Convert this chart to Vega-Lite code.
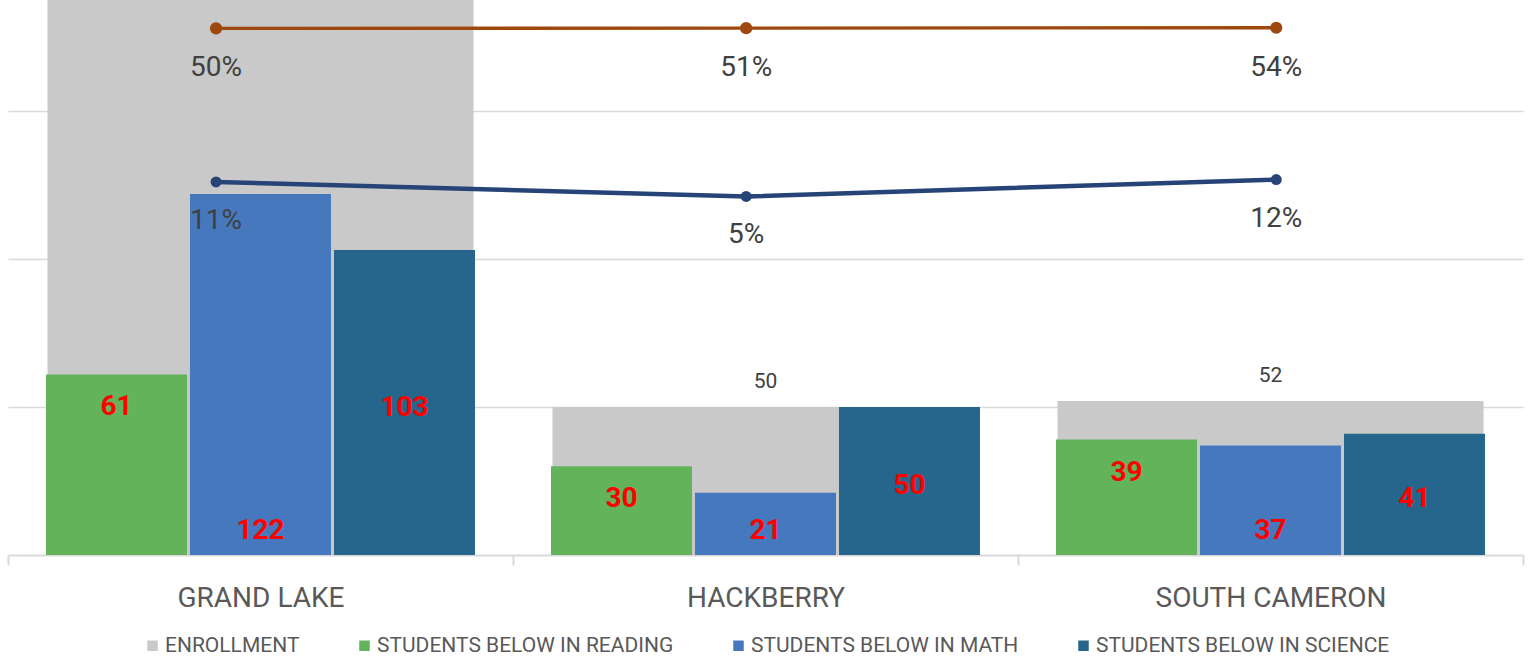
{
  "$schema": "https://vega.github.io/schema/vega-lite/v6.json",
  "width": 1515,
  "height": 555,
  "autosize": {"type": "none"},
  "padding": {"left": 8, "top": 0, "right": 5, "bottom": 101},
  "background": "white",
  "config": {
    "font": "Roboto",
    "view": {"stroke": null},
    "legend": {"layout": {"bottom": {"anchor": "middle"}}}
  },
  "datasets": {
    "enroll": [
      {"school": "GRAND LAKE", "series": "ENROLLMENT", "value": 230},
      {"school": "HACKBERRY", "series": "ENROLLMENT", "value": 50},
      {"school": "SOUTH CAMERON", "series": "ENROLLMENT", "value": 52}
    ],
    "scores": [
      {"school": "GRAND LAKE", "series": "STUDENTS BELOW IN READING", "value": 61},
      {"school": "GRAND LAKE", "series": "STUDENTS BELOW IN MATH", "value": 122},
      {"school": "GRAND LAKE", "series": "STUDENTS BELOW IN SCIENCE", "value": 103},
      {"school": "HACKBERRY", "series": "STUDENTS BELOW IN READING", "value": 30},
      {"school": "HACKBERRY", "series": "STUDENTS BELOW IN MATH", "value": 21},
      {"school": "HACKBERRY", "series": "STUDENTS BELOW IN SCIENCE", "value": 50},
      {"school": "SOUTH CAMERON", "series": "STUDENTS BELOW IN READING", "value": 39},
      {"school": "SOUTH CAMERON", "series": "STUDENTS BELOW IN MATH", "value": 37},
      {"school": "SOUTH CAMERON", "series": "STUDENTS BELOW IN SCIENCE", "value": 41}
    ],
    "rates": [
      {"school": "GRAND LAKE", "line": "upper", "pct": 0.50},
      {"school": "HACKBERRY", "line": "upper", "pct": 0.51},
      {"school": "SOUTH CAMERON", "line": "upper", "pct": 0.54},
      {"school": "GRAND LAKE", "line": "lower", "pct": 0.11},
      {"school": "HACKBERRY", "line": "lower", "pct": 0.05},
      {"school": "SOUTH CAMERON", "line": "lower", "pct": 0.12}
    ]
  },
  "layer": [
    {
      "data": {"name": "enroll"},
      "mark": {"type": "bar", "clip": true, "width": {"band": 0.8436}},
      "encoding": {
        "x": {
          "field": "school", "type": "nominal", "sort": null, "title": null,
          "scale": {"type": "band", "domain": ["GRAND LAKE", "HACKBERRY", "SOUTH CAMERON"], "paddingInner": 0, "paddingOuter": 0},
          "axis": {
            "labelAngle": 0, "labelFont": "Roboto", "labelFontSize": 28, "labelColor": "#595959",
            "labelPadding": 19, "labelLimit": 480, "tickBand": "extent", "tickSize": 10, "tickColor": "#d9d9d9", "tickWidth": 2,
            "domainColor": "#d9d9d9", "domainWidth": 2, "grid": false
          }
        },
        "y": {
          "field": "value", "type": "quantitative",
          "scale": {"domain": [0, 187.5], "nice": false, "zero": true},
          "axis": {"title": null, "labels": false, "ticks": false, "domain": false, "grid": true, "values": [50, 100, 150], "gridColor": "#d9d9d9", "gridWidth": 1.5}
        },
        "color": {
          "field": "series", "type": "nominal", "sort": null,
          "scale": {
            "domain": ["ENROLLMENT", "STUDENTS BELOW IN READING", "STUDENTS BELOW IN MATH", "STUDENTS BELOW IN SCIENCE"],
            "range": ["#c9c9c9", "#63b35b", "#4678be", "#26668c"]
          },
          "legend": {
            "orient": "bottom", "direction": "horizontal", "title": null,
            "labelFont": "Roboto", "labelFontSize": 21, "labelColor": "#595959",
            "symbolType": "square", "symbolSize": 110, "symbolStrokeWidth": 0,
            "columnPadding": 54, "labelOffset": 2, "offset": 23, "labelLimit": 500
          }
        }
      }
    },
    {
      "data": {"name": "scores"},
      "mark": {"type": "bar"},
      "encoding": {
        "x": {
          "field": "school", "type": "nominal", "sort": null,
          "scale": {"type": "band", "domain": ["GRAND LAKE", "HACKBERRY", "SOUTH CAMERON"], "paddingInner": 0, "paddingOuter": 0},
          "axis": null
        },
        "xOffset": {
          "field": "series", "type": "nominal", "sort": null,
          "scale": {"domain": ["STUDENTS BELOW IN READING", "STUDENTS BELOW IN MATH", "STUDENTS BELOW IN SCIENCE"], "paddingInner": 0.0208, "paddingOuter": 0.264}
        },
        "y": {
          "field": "value", "type": "quantitative",
          "scale": {"domain": [0, 187.5], "nice": false, "zero": true},
          "axis": null
        },
        "color": {
          "field": "series", "type": "nominal", "sort": null,
          "legend": {
            "orient": "bottom", "direction": "horizontal", "title": null,
            "labelFont": "Roboto", "labelFontSize": 21, "labelColor": "#595959",
            "symbolType": "square", "symbolSize": 110, "symbolStrokeWidth": 0,
            "columnPadding": 54, "labelOffset": 2, "offset": 23, "labelLimit": 500
          }
        }
      }
    },
    {
      "data": {"name": "rates"},
      "transform": [{"filter": "datum.line === 'lower'"}],
      "mark": {"type": "line", "color": "#264478", "strokeWidth": 4.5, "point": {"filled": true, "size": 120, "color": "#264478"}},
      "encoding": {
        "x": {
          "field": "school", "type": "nominal", "sort": null, "bandPosition": 0.427,
          "scale": {"type": "band", "domain": ["GRAND LAKE", "HACKBERRY", "SOUTH CAMERON"], "paddingInner": 0.5, "paddingOuter": 0.179},
          "axis": null
        },
        "y": {
          "field": "pct", "type": "quantitative",
          "scale": {"domain": [-1.432, 0.862], "nice": false, "zero": false},
          "axis": null
        }
      }
    },
    {
      "data": {"name": "rates"},
      "transform": [{"filter": "datum.line === 'upper'"}],
      "mark": {"type": "line", "color": "#9e480e", "strokeWidth": 3.3, "point": {"filled": true, "size": 150, "color": "#9e480e"}},
      "encoding": {
        "x": {
          "field": "school", "type": "nominal", "sort": null, "bandPosition": 0.427,
          "scale": {"type": "band", "domain": ["GRAND LAKE", "HACKBERRY", "SOUTH CAMERON"], "paddingInner": 0.5, "paddingOuter": 0.179},
          "axis": null
        },
        "y": {
          "field": "pct", "type": "quantitative",
          "scale": {"domain": [-37.46, 2.54], "nice": false, "zero": false},
          "axis": null
        }
      }
    },
    {
      "data": {"name": "rates"},
      "transform": [{"filter": "datum.line === 'lower'"}],
      "mark": {"type": "text", "font": "Roboto", "fontSize": 28, "color": "#404040", "baseline": "middle", "dy": 39},
      "encoding": {
        "x": {
          "field": "school", "type": "nominal", "sort": null, "bandPosition": 0.427,
          "scale": {"type": "band", "domain": ["GRAND LAKE", "HACKBERRY", "SOUTH CAMERON"], "paddingInner": 0.5, "paddingOuter": 0.179},
          "axis": null
        },
        "y": {
          "field": "pct", "type": "quantitative",
          "scale": {"domain": [-1.432, 0.862], "nice": false, "zero": false},
          "axis": null
        },
        "text": {"field": "pct", "type": "quantitative", "format": ".0%"}
      }
    },
    {
      "data": {"name": "rates"},
      "transform": [{"filter": "datum.line === 'upper'"}],
      "mark": {"type": "text", "font": "Roboto", "fontSize": 28, "color": "#404040", "baseline": "middle", "dy": 40},
      "encoding": {
        "x": {
          "field": "school", "type": "nominal", "sort": null, "bandPosition": 0.427,
          "scale": {"type": "band", "domain": ["GRAND LAKE", "HACKBERRY", "SOUTH CAMERON"], "paddingInner": 0.5, "paddingOuter": 0.179},
          "axis": null
        },
        "y": {
          "field": "pct", "type": "quantitative",
          "scale": {"domain": [-37.46, 2.54], "nice": false, "zero": false},
          "axis": null
        },
        "text": {"field": "pct", "type": "quantitative", "format": ".0%"}
      }
    },
    {
      "data": {"name": "enroll"},
      "transform": [{"filter": "datum.value <= 180"}],
      "mark": {"type": "text", "clip": true, "font": "Roboto", "fontSize": 21, "color": "#404040", "baseline": "middle", "dy": -25},
      "encoding": {
        "x": {
          "field": "school", "type": "nominal", "sort": null,
          "scale": {"type": "band", "domain": ["GRAND LAKE", "HACKBERRY", "SOUTH CAMERON"], "paddingInner": 0, "paddingOuter": 0},
          "axis": null
        },
        "y": {
          "field": "value", "type": "quantitative",
          "scale": {"domain": [0, 187.5], "nice": false, "zero": true},
          "axis": null
        },
        "text": {"field": "value", "type": "quantitative"}
      }
    },
    {
      "data": {"name": "scores"},
      "transform": [{"filter": "datum.series === 'STUDENTS BELOW IN READING'"}],
      "mark": {"type": "text", "font": "Roboto", "fontSize": 28, "fontWeight": "bold", "color": "#ff0000", "baseline": "middle", "dy": 33},
      "encoding": {
        "x": {
          "field": "school", "type": "nominal", "sort": null,
          "scale": {"type": "band", "domain": ["GRAND LAKE", "HACKBERRY", "SOUTH CAMERON"], "paddingInner": 0, "paddingOuter": 0},
          "axis": null
        },
        "xOffset": {"field": "series", "type": "nominal", "sort": null},
        "y": {
          "field": "value", "type": "quantitative",
          "scale": {"domain": [0, 187.5], "nice": false, "zero": true},
          "axis": null
        },
        "text": {"field": "value", "type": "quantitative"}
      }
    },
    {
      "data": {"name": "scores"},
      "transform": [{"filter": "datum.series === 'STUDENTS BELOW IN MATH'"}],
      "mark": {"type": "text", "font": "Roboto", "fontSize": 28, "fontWeight": "bold", "color": "#ff0000", "baseline": "middle", "dy": -24.5},
      "encoding": {
        "x": {
          "field": "school", "type": "nominal", "sort": null,
          "scale": {"type": "band", "domain": ["GRAND LAKE", "HACKBERRY", "SOUTH CAMERON"], "paddingInner": 0, "paddingOuter": 0},
          "axis": null
        },
        "xOffset": {"field": "series", "type": "nominal", "sort": null},
        "y": {
          "datum": 0, "type": "quantitative",
          "scale": {"domain": [0, 187.5], "nice": false, "zero": true},
          "axis": null
        },
        "text": {"field": "value", "type": "quantitative"}
      }
    },
    {
      "data": {"name": "scores"},
      "transform": [{"filter": "datum.series === 'STUDENTS BELOW IN SCIENCE'"}],
      "mark": {"type": "text", "font": "Roboto", "fontSize": 28, "fontWeight": "bold", "color": "#ff0000", "baseline": "middle", "dy": 5},
      "encoding": {
        "x": {
          "field": "school", "type": "nominal", "sort": null,
          "scale": {"type": "band", "domain": ["GRAND LAKE", "HACKBERRY", "SOUTH CAMERON"], "paddingInner": 0, "paddingOuter": 0},
          "axis": null
        },
        "xOffset": {"field": "series", "type": "nominal", "sort": null},
        "y": {
          "field": "value", "type": "quantitative",
          "scale": {"domain": [0, 375], "nice": false, "zero": true},
          "axis": null
        },
        "text": {"field": "value", "type": "quantitative"}
      }
    }
  ],
  "resolve": {"scale": {"x": "independent", "y": "independent"}}
}
